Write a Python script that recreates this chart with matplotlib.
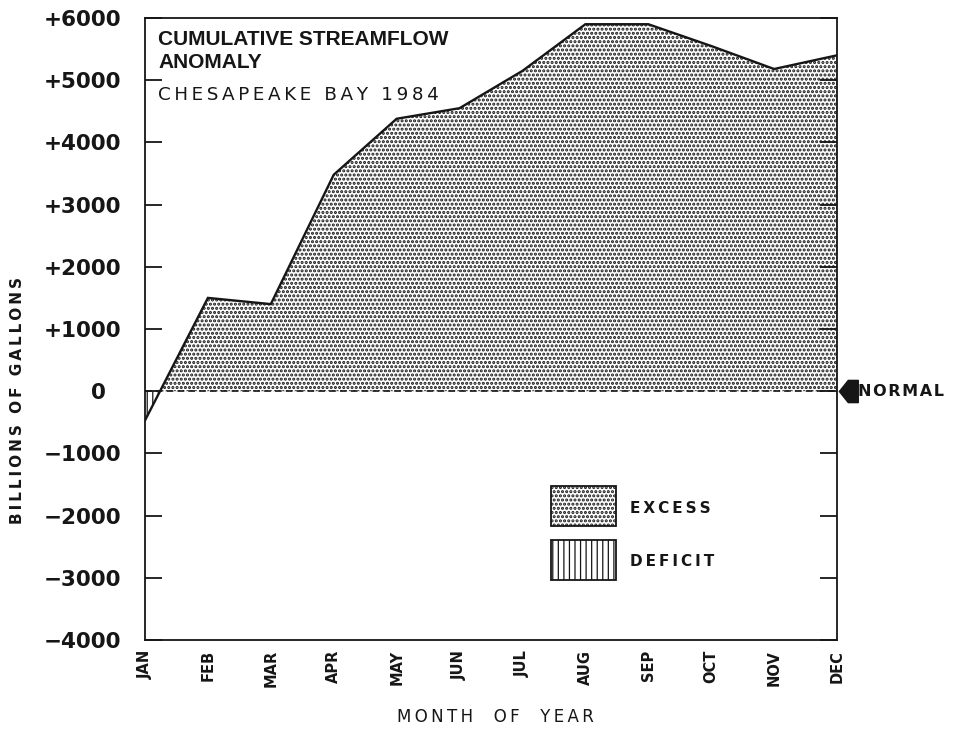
import numpy as np
import matplotlib
matplotlib.use("Agg")
import matplotlib.pyplot as plt
import matplotlib.transforms as mtransforms
from matplotlib.patches import Rectangle
from matplotlib.path import Path

# Cumulative streamflow anomaly, billions of gallons, end of each month
months = ["JAN", "FEB", "MAR", "APR", "MAY", "JUN",
          "JUL", "AUG", "SEP", "OCT", "NOV", "DEC"]
anomaly = [-470, 1500, 1400, 3480, 4380, 4550,
           5150, 5900, 5900, 5550, 5180, 5400]

y_ticks = [-4000, -3000, -2000, -1000, 0, 1000, 2000, 3000, 4000, 5000, 6000]
y_tick_labels = ["\u22124000", "\u22123000", "\u22122000", "\u22121000", "0",
                 "+1000", "+2000", "+3000", "+4000", "+5000", "+6000"]

INK = "#161616"
THIN = "\u2009"
HAIR = "\u200a"


def spaced(s, gap=THIN):
    """Open up letter spacing with narrow spaces."""
    return gap.join(s)


plt.rcParams["font.family"] = ["DejaVu Sans"]
plt.rcParams["hatch.color"] = INK

fig = plt.figure(figsize=(9.54, 7.3), dpi=100)
ax = fig.add_axes([145 / 954, 1 - 640 / 730, 692 / 954, 622 / 730])

x = np.arange(len(months))
y = np.array(anomaly, dtype=float)

# Excess (stipple) and deficit (vertical rule) areas
plt.rcParams["hatch.linewidth"] = 1.5
ax.fill_between(x, y, 0, where=y >= 0, interpolate=True,
                facecolor="white", hatch="....", linewidth=0, zorder=1)
ax.add_patch(Rectangle((0.587, 0.183), 0.094, 0.064, transform=ax.transAxes,
                       facecolor="white", edgecolor=INK, lw=1.3,
                       hatch="....", clip_on=False, zorder=4))
plt.rcParams["hatch.linewidth"] = 0.9
ax.fill_between(x, y, 0, where=y <= 0, interpolate=True,
                facecolor="white", hatch="|||", linewidth=0, zorder=1)
ax.add_patch(Rectangle((0.587, 0.0965), 0.094, 0.064, transform=ax.transAxes,
                       facecolor="white", edgecolor=INK, lw=1.3,
                       hatch="|||", clip_on=False, zorder=4))

ax.plot(x, y, color=INK, lw=1.7, zorder=3, solid_joinstyle="miter")
ax.axhline(0, color=INK, lw=1.2, ls=(0, (4, 2.5)), zorder=3)

ax.set_xlim(0, len(months) - 1)
ax.set_ylim(-4000, 6000)

for sp in ax.spines.values():
    sp.set_linewidth(1.3)
    sp.set_color(INK)

ax.set_xticks(x, months)
ax.tick_params(axis="x", length=0, pad=7, labelsize=10.5, labelrotation=90)
for lab in ax.get_xticklabels():
    lab.set_fontweight("bold")
    lab.set_color(INK)

ax.set_yticks(y_ticks, y_tick_labels)
ax.tick_params(axis="y", direction="in", length=12, width=1.3, color=INK,
               right=True, pad=17, labelsize=15.5)
for lab in ax.get_yticklabels():
    lab.set_fontweight("bold")
    lab.set_color(INK)
    if lab.get_text() == "0":
        lab.set_horizontalalignment("center")
        lab.set_transform(lab.get_transform() +
                          mtransforms.ScaledTranslation(-0.23, 0, fig.dpi_scale_trans))

# Title block
ax.text(0.019, 0.965, "CUMULATIVE STREAMFLOW", transform=ax.transAxes,
        family=["Liberation Sans", "DejaVu Sans"], fontweight="bold",
        fontsize=15, color=INK, ha="left", va="center")
ax.text(0.019, 0.928, "ANOMALY", transform=ax.transAxes,
        family=["Liberation Sans", "DejaVu Sans"], fontweight="bold",
        fontsize=15, color=INK, ha="left", va="center")
ax.text(0.019, 0.876, spaced("CHESAPEAKE BAY 1984"), transform=ax.transAxes,
        fontsize=13.2, color=INK, ha="left", va="center")

ax.text(0.701, 0.212, spaced("EXCESS"), transform=ax.transAxes,
        fontsize=11, fontweight="bold", color=INK, ha="left", va="center")
ax.text(0.701, 0.127, spaced("DEFICIT"), transform=ax.transAxes,
        fontsize=11, fontweight="bold", color=INK, ha="left", va="center")

# "Normal" pointer at the zero level outside the right edge
side = mtransforms.blended_transform_factory(ax.transAxes, ax.transData)
pointer = Path([(-1.0, 0.0), (-0.2, 1.0), (0.7, 1.0), (0.7, -1.0),
                (-0.2, -1.0), (-1.0, 0.0)],
               [Path.MOVETO] + [Path.LINETO] * 4 + [Path.CLOSEPOLY])
ax.plot([1.0188], [0], marker=pointer, markersize=16, color=INK,
        transform=side, clip_on=False, zorder=5)
ax.text(1.030, 0, spaced("NORMAL", HAIR), transform=side, fontsize=11.5,
        fontweight="bold", color=INK, ha="left", va="center", clip_on=False)

# Axis titles
fig.text(18 / 954, 1 - 400 / 730, spaced("BILLIONS OF GALLONS"), rotation=90,
         fontsize=11, fontweight="bold", color=INK, ha="center", va="center")
fig.text(495 / 954, 1 - 717 / 730, spaced("MONTH  OF  YEAR"),
         fontsize=12, color=INK, ha="center", va="center")

fig.savefig("out.png", dpi=100, facecolor="white")
